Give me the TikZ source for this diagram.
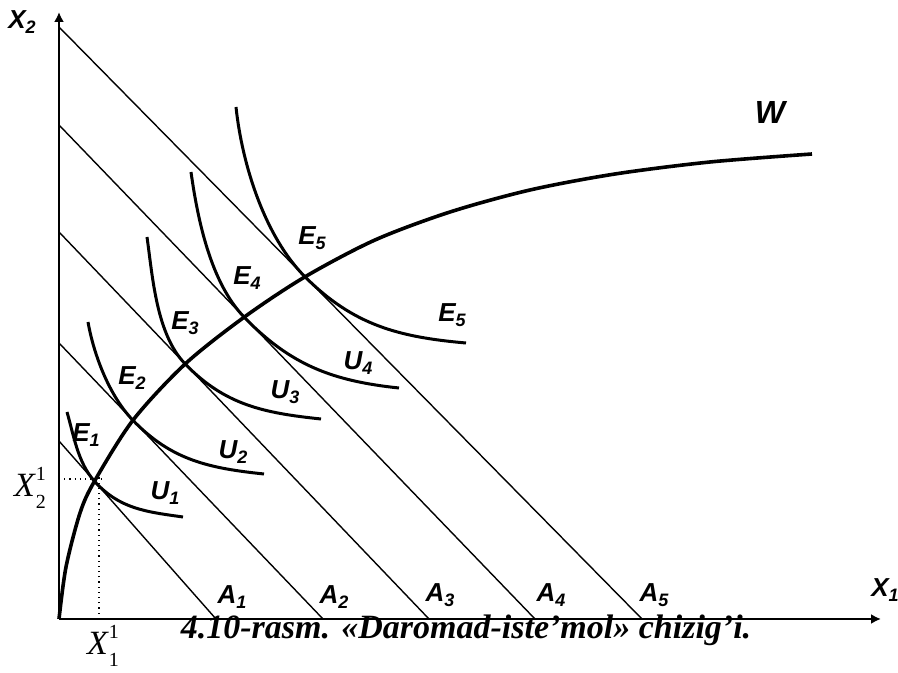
\documentclass[tikz,border=0pt]{standalone}
\usepackage{fontspec}
\setmainfont{Liberation Serif}
\newfontfamily\arialf{Liberation Sans}
\usepackage{tikz}
\usetikzlibrary{arrows.meta,positioning,calc}
\newcommand\sublbl[2]{#1\raisebox{-0.35ex}{\fontsize{9}{9}\selectfont #2}}
\tikzset{
  axis/.style={line width=1.1pt, -{Latex[length=5pt,width=5pt]}},
  budget/.style={line width=0.7pt},
  indiff/.style={line width=1.5pt},
  wcurve/.style={line width=1.8pt},
  guide/.style={dotted, line width=0.6pt},
  lbl/.style={font=\arialf\bfseries\itshape\fontsize{13}{15}\selectfont, inner sep=1pt},
  mlbl/.style={font=\fontsize{17}{18}\selectfont, inner sep=1pt},
  capt/.style={font=\fontsize{17}{20}\selectfont\bfseries\itshape, inner sep=0pt}
}
\begin{document}
\begin{tikzpicture}[x=0.5pt,y=0.5pt]
\useasboundingbox (0,0) rectangle (898,673);
% axes
\coordinate (O) at (59,54);
\coordinate (ytop) at (59,661);
\coordinate (xend) at (881,54);
\draw[axis] (O) -- (ytop);
\draw[axis] (O) -- (xend);
\node[lbl] (x2) at (22,651) {\sublbl{X}{2}};
\node[lbl] (x1) at (885,83) {\sublbl{X}{1}};
% budget lines
\coordinate (b1) at (59,232); \coordinate (a1) at (216,54);
\coordinate (b2) at (59,330); \coordinate (a2) at (323,54);
\coordinate (b3) at (59,441); \coordinate (a3) at (429,54);
\coordinate (b4) at (59,548); \coordinate (a4) at (535,54);
\coordinate (b5) at (59,646); \coordinate (a5) at (642,54);
\foreach \i in {1,...,5} \draw[budget] (b\i) -- (a\i);
\node[lbl] (la1) at (232,76) {\sublbl{A}{1}};
\node[lbl] (la2) at (334,76) {\sublbl{A}{2}};
\node[lbl] (la3) at (440,78) {\sublbl{A}{3}};
\node[lbl] (la4) at (551,78) {\sublbl{A}{4}};
\node[lbl] (la5) at (654,78) {\sublbl{A}{5}};
% equilibrium points
\coordinate (e1) at ($(b1)!0.226!(a1)$);
\coordinate (e2) at ($(b2)!0.280!(a2)$);
\coordinate (e3) at ($(b3)!0.341!(a3)$);
\coordinate (e4) at ($(b4)!0.389!(a4)$);
\coordinate (e5) at ($(b5)!0.422!(a5)$);
% indifference curves
\coordinate (u1s) at (67,261);  \coordinate (u1e) at (183,156);
\coordinate (u2s) at (88,351);  \coordinate (u2e) at (264,199);
\coordinate (u3s) at (147,436); \coordinate (u3e) at (321,254);
\coordinate (u4s) at (191,501); \coordinate (u4e) at (399,285);
\coordinate (u5s) at (236,566); \coordinate (u5e) at (466,330);
\draw[indiff] (u1s) to[out=-74,in=132,looseness=0.85] (e1) to[out=-48,in=172] (u1e);
\draw[indiff] (u2s) to[out=-80,in=134,looseness=0.8] (e2) to[out=-46,in=174] (u2e);
\draw[indiff] (u3s) to[out=-82,in=134,looseness=0.8] (e3) to[out=-46,in=174] (u3e);
\draw[indiff] (u4s) to[out=-82,in=134,looseness=0.8] (e4) to[out=-46,in=174] (u4e);
\draw[indiff] (u5s) to[out=-84,in=135,looseness=0.8] (e5) to[out=-45,in=175] (u5e);
% income-consumption curve
\draw[wcurve] plot[smooth, tension=0.5] coordinates {(O) (66,106) (80,160) (e1) (e2) (e3) (e4) (e5) (375,433) (450,461) (530,483) (615,499) (710,511) (812,519)};
\node[lbl, font=\arialf\bfseries\itshape\fontsize{16}{18}\selectfont] (w) at (770,560) {W};
% labels
\node[lbl] (le1) at (86,238) {\sublbl{E}{1}};
\node[lbl] (le2) at (132,295) {\sublbl{E}{2}};
\node[lbl] (le3) at (185,350) {\sublbl{E}{3}};
\node[lbl] (le4) at (247,395) {\sublbl{E}{4}};
\node[lbl] (le5) at (312,435) {\sublbl{E}{5}};
\node[lbl] (lu5) at (452,358) {\sublbl{E}{5}};
\node[lbl] (lu1) at (165,180) {\sublbl{U}{1}};
\node[lbl] (lu2) at (233,221) {\sublbl{U}{2}};
\node[lbl] (lu3) at (285,281) {\sublbl{U}{3}};
\node[lbl] (lu4) at (358,310) {\sublbl{U}{4}};
% optimum bundle
\coordinate (gx) at (99,54);
\coordinate (gy) at (59,194);
\draw[guide] (gy) -- (104,194);
\draw[guide] (gx) -- (99,196);
\node[mlbl] (x21) at (30,185) {\textit{X}\rlap{\raisebox{1.05ex}{\fontsize{10}{10}\selectfont 1}}\raisebox{-0.75ex}{\fontsize{10}{10}\selectfont 2}};
\node[mlbl] (x11) at (103,27) {\textit{X}\rlap{\raisebox{1.05ex}{\fontsize{10}{10}\selectfont 1}}\raisebox{-0.75ex}{\fontsize{10}{10}\selectfont 1}};
% caption
\node[capt, anchor=base] (cap) at (466,34) {4.10-rasm. «Daromad-iste’mol» chizig’i.};
\end{tikzpicture}
\end{document}
